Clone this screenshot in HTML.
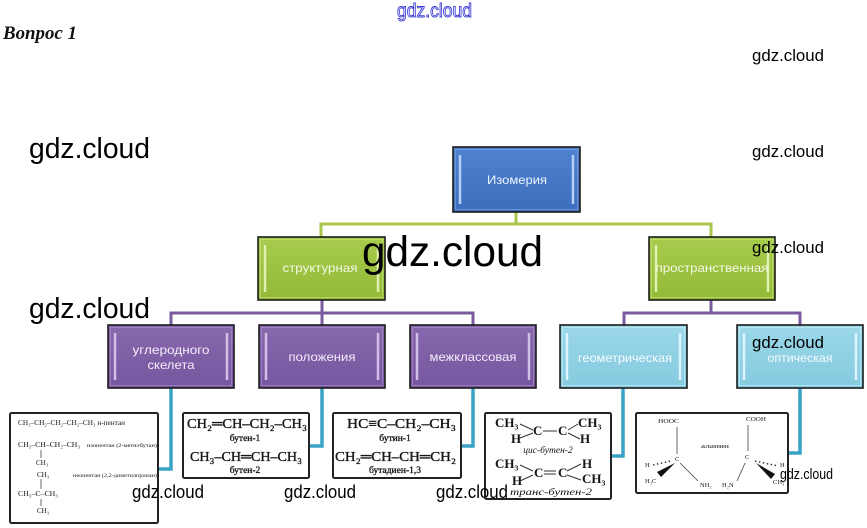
<!DOCTYPE html>
<html><head><meta charset="utf-8">
<style>
html,body{margin:0;padding:0;background:#fff;}
svg{display:block;}
.wm{font-family:"Liberation Sans",sans-serif;fill:#000;}
.bt{font-family:"Liberation Sans","DejaVu Sans",sans-serif;font-size:12px;text-anchor:middle;}
.ch{font-family:"Liberation Serif","DejaVu Serif",serif;fill:#151515;}
</style></head><body>
<svg width="867" height="528" viewBox="0 0 867 528" xmlns="http://www.w3.org/2000/svg">
<defs>
<linearGradient id="gB" x1="0" y1="0" x2="0" y2="1"><stop offset="0" stop-color="#4f82cf"/><stop offset="1" stop-color="#3b6dbd"/></linearGradient>
<linearGradient id="gG" x1="0" y1="0" x2="0" y2="1"><stop offset="0" stop-color="#a8cb4d"/><stop offset="1" stop-color="#93ba37"/></linearGradient>
<linearGradient id="gP" x1="0" y1="0" x2="0" y2="1"><stop offset="0" stop-color="#8869ae"/><stop offset="1" stop-color="#75569f"/></linearGradient>
<linearGradient id="gL" x1="0" y1="0" x2="0" y2="1"><stop offset="0" stop-color="#9ad7e9"/><stop offset="1" stop-color="#86cadf"/></linearGradient>
</defs>

<!-- header -->
<text x="397" y="17" font-family="Liberation Sans, sans-serif" font-size="19" fill="#fff" stroke="#3b3bd6" stroke-width="0.9" textLength="75" lengthAdjust="spacingAndGlyphs">gdz.cloud</text>
<text x="3" y="39" font-family="Liberation Serif, serif" font-size="19" font-weight="bold" font-style="italic" fill="#111" textLength="74" lengthAdjust="spacingAndGlyphs">Вопрос 1</text>

<!-- connectors green -->
<g fill="none" stroke="#a9c64c" stroke-width="3">
<line x1="516" y1="212" x2="516" y2="224"/>
<polyline points="321,237 321,224 711,224 711,237"/>
</g>
<!-- connectors purple -->
<g fill="none" stroke="#7a5c9e" stroke-width="3">
<line x1="322" y1="300" x2="322" y2="325"/>
<polyline points="171,325 171,313 473,313 473,325"/>
<line x1="711" y1="300" x2="711" y2="313"/>
<polyline points="624,325 624,313 800,313 800,325"/>
</g>
<!-- connectors cyan -->
<g fill="none" stroke="#3aa4c6" stroke-width="3.5">
<polyline points="171,388 171,469 158,469"/>
<polyline points="322,388 322,446 309,446"/>
<polyline points="473,388 473,446 461,446"/>
<polyline points="623,388 623,456 611,456"/>
<polyline points="800,388 800,453 788,453"/>
</g>

<!-- Boxes -->
<g>
<rect x="453" y="147" width="127" height="65" fill="url(#gB)" stroke="#1b1b1b" stroke-width="1.6"/>
<rect x="455.5" y="149.5" width="122" height="60" fill="none" stroke="#7aa0dc" stroke-width="1" opacity="0.7"/>
<line x1="460" y1="155" x2="460" y2="204" stroke="#b5d0f2" stroke-width="2.5"/>
<line x1="573" y1="155" x2="573" y2="204" stroke="#b5d0f2" stroke-width="2.5"/>
<text class="bt" x="517" y="184" fill="#eef4ff" textLength="60" lengthAdjust="spacingAndGlyphs">Изомерия</text>
</g>
<g>
<rect x="258" y="237" width="127" height="63" fill="url(#gG)" stroke="#1b1b1b" stroke-width="1.6"/>
<rect x="260.5" y="239.5" width="122" height="58" fill="none" stroke="#c4df7e" stroke-width="1" opacity="0.7"/>
<line x1="265" y1="245" x2="265" y2="292" stroke="#e0f0b0" stroke-width="2.5"/>
<line x1="378" y1="245" x2="378" y2="292" stroke="#e0f0b0" stroke-width="2.5"/>
<text class="bt" x="320" y="272" fill="#f4f9e6" textLength="75" lengthAdjust="spacingAndGlyphs">структурная</text>
</g>
<g>
<rect x="649" y="237" width="126" height="63" fill="url(#gG)" stroke="#1b1b1b" stroke-width="1.6"/>
<rect x="651.5" y="239.5" width="121" height="58" fill="none" stroke="#c4df7e" stroke-width="1" opacity="0.7"/>
<line x1="656" y1="245" x2="656" y2="292" stroke="#e0f0b0" stroke-width="2.5"/>
<line x1="768" y1="245" x2="768" y2="292" stroke="#e0f0b0" stroke-width="2.5"/>
<text class="bt" x="712" y="272" fill="#f4f9e6" textLength="113" lengthAdjust="spacingAndGlyphs">пространственная</text>
</g>
<g>
<rect x="108" y="325" width="126" height="63" fill="url(#gP)" stroke="#1b1b1b" stroke-width="1.6"/>
<rect x="110.5" y="327.5" width="121" height="58" fill="none" stroke="#a88cc8" stroke-width="1" opacity="0.7"/>
<line x1="115" y1="333" x2="115" y2="380" stroke="#d2bfe8" stroke-width="2.5"/>
<line x1="227" y1="333" x2="227" y2="380" stroke="#d2bfe8" stroke-width="2.5"/>
<text class="bt" x="171" y="354" fill="#f4eefa" textLength="77" lengthAdjust="spacingAndGlyphs">углеродного</text>
<text class="bt" x="171" y="369" fill="#f4eefa" textLength="47" lengthAdjust="spacingAndGlyphs">скелета</text>
</g>
<g>
<rect x="259" y="325" width="126" height="63" fill="url(#gP)" stroke="#1b1b1b" stroke-width="1.6"/>
<rect x="261.5" y="327.5" width="121" height="58" fill="none" stroke="#a88cc8" stroke-width="1" opacity="0.7"/>
<line x1="266" y1="333" x2="266" y2="380" stroke="#d2bfe8" stroke-width="2.5"/>
<line x1="378" y1="333" x2="378" y2="380" stroke="#d2bfe8" stroke-width="2.5"/>
<text class="bt" x="322" y="361" fill="#f4eefa" textLength="67" lengthAdjust="spacingAndGlyphs">положения</text>
</g>
<g>
<rect x="410" y="325" width="126" height="63" fill="url(#gP)" stroke="#1b1b1b" stroke-width="1.6"/>
<rect x="412.5" y="327.5" width="121" height="58" fill="none" stroke="#a88cc8" stroke-width="1" opacity="0.7"/>
<line x1="417" y1="333" x2="417" y2="380" stroke="#d2bfe8" stroke-width="2.5"/>
<line x1="529" y1="333" x2="529" y2="380" stroke="#d2bfe8" stroke-width="2.5"/>
<text class="bt" x="473" y="361" fill="#f4eefa" textLength="87" lengthAdjust="spacingAndGlyphs">межклассовая</text>
</g>
<g>
<rect x="560" y="325" width="127" height="63" fill="url(#gL)" stroke="#1b1b1b" stroke-width="1.6"/>
<rect x="562.5" y="327.5" width="122" height="58" fill="none" stroke="#c2ebf6" stroke-width="1" opacity="0.7"/>
<line x1="567" y1="333" x2="567" y2="380" stroke="#dcf4fb" stroke-width="2.5"/>
<line x1="680" y1="333" x2="680" y2="380" stroke="#dcf4fb" stroke-width="2.5"/>
<text class="bt" x="625" y="362" fill="#f6fcff" textLength="94" lengthAdjust="spacingAndGlyphs">геометрическая</text>
</g>
<g>
<rect x="737" y="325" width="126" height="63" fill="url(#gL)" stroke="#1b1b1b" stroke-width="1.6"/>
<rect x="739.5" y="327.5" width="121" height="58" fill="none" stroke="#c2ebf6" stroke-width="1" opacity="0.7"/>
<line x1="744" y1="333" x2="744" y2="380" stroke="#dcf4fb" stroke-width="2.5"/>
<line x1="856" y1="333" x2="856" y2="380" stroke="#dcf4fb" stroke-width="2.5"/>
<text class="bt" x="800" y="362" fill="#f6fcff" textLength="65" lengthAdjust="spacingAndGlyphs">оптическая</text>
</g>

<!-- chem box 1 -->
<rect x="10" y="413" width="148" height="110" fill="#fff" stroke="#222" stroke-width="2" rx="1.5"/>
<g class="ch" font-size="7" fill="#333">
<text x="18" y="425" textLength="107" lengthAdjust="spacingAndGlyphs">CH₃–CH₂–CH₂–CH₂–CH₃ н-пентан</text>
<text x="18" y="447" textLength="62" lengthAdjust="spacingAndGlyphs">CH₃–CH–CH₂–CH₃</text>
<text x="87" y="447" font-size="5" textLength="70" lengthAdjust="spacingAndGlyphs">изопентан (2-метилбутан)</text>
<text x="36" y="465">CH₃</text>
<text x="37" y="477">CH₃</text>
<text x="73" y="477" font-size="5" textLength="84" lengthAdjust="spacingAndGlyphs">неопентан (2,2-диметилпропан)</text>
<text x="18" y="496" textLength="40" lengthAdjust="spacingAndGlyphs">CH₃–C–CH₃</text>
<text x="37" y="513">CH₃</text>
</g>
<g stroke="#444" stroke-width="0.8">
<line x1="41" y1="450" x2="41" y2="458"/>
<line x1="41" y1="479" x2="41" y2="489"/>
<line x1="41" y1="499" x2="41" y2="506"/>
</g>

<!-- chem box 2 -->
<rect x="183" y="413" width="126" height="65" fill="#fff" stroke="#222" stroke-width="2" rx="1.5"/>
<g class="ch" stroke="#151515" stroke-width="0.35">
<text x="187" y="428" font-size="14" textLength="120" lengthAdjust="spacingAndGlyphs">CH₂═CH–CH₂–CH₃</text>
<text x="245" y="441" font-size="9.5" text-anchor="middle">бутен-1</text>
<text x="190" y="461" font-size="14" textLength="112" lengthAdjust="spacingAndGlyphs">CH₃–CH═CH–CH₃</text>
<text x="245" y="473" font-size="9.5" text-anchor="middle">бутен-2</text>
</g>

<!-- chem box 3 -->
<rect x="333" y="413" width="128" height="65" fill="#fff" stroke="#222" stroke-width="2" rx="1.5"/>
<g class="ch" stroke="#151515" stroke-width="0.35">
<text x="347" y="428" font-size="14" textLength="109" lengthAdjust="spacingAndGlyphs">HC≡C–CH₂–CH₃</text>
<text x="395" y="441" font-size="9.5" text-anchor="middle">бутин-1</text>
<text x="335" y="461" font-size="14" textLength="121" lengthAdjust="spacingAndGlyphs">CH₂═CH–CH═CH₂</text>
<text x="395" y="473" font-size="9.5" text-anchor="middle">бутадиен-1,3</text>
</g>

<!-- chem box 4 -->
<rect x="485" y="413" width="126" height="86" fill="#fff" stroke="#222" stroke-width="2" rx="1.5"/>
<g class="ch" font-size="13" font-weight="bold">
<text x="495" y="427">CH₃</text>
<text x="533" y="435">C</text>
<text x="558" y="435">C</text>
<text x="578" y="427">CH₃</text>
<text x="511" y="443">H</text>
<text x="580" y="443">H</text>
<text x="548" y="453" font-size="9.5" font-style="italic" text-anchor="middle" font-weight="normal">цис-бутен-2</text>
<text x="495" y="468">CH₃</text>
<text x="534" y="477">C</text>
<text x="558" y="477">C</text>
<text x="582" y="468">H</text>
<text x="512" y="485">H</text>
<text x="582" y="483">CH₃</text>
<text x="510" y="495" font-size="9.5" font-style="italic" font-weight="normal" textLength="82" lengthAdjust="spacingAndGlyphs">транс-бутен-2</text>
</g>
<g stroke="#333" stroke-width="1">
<line x1="520" y1="424" x2="533" y2="430"/>
<line x1="520" y1="438" x2="533" y2="433"/>
<line x1="543" y1="431" x2="557" y2="431"/>
<line x1="568" y1="430" x2="578" y2="424"/>
<line x1="568" y1="433" x2="580" y2="439"/>
<line x1="520" y1="465" x2="533" y2="471"/>
<line x1="520" y1="481" x2="533" y2="475"/>
<line x1="544" y1="471" x2="556" y2="471"/>
<line x1="544" y1="474" x2="556" y2="474"/>
<line x1="567" y1="471" x2="581" y2="464"/>
<line x1="567" y1="475" x2="581" y2="480"/>
</g>

<!-- chem box 5 -->
<rect x="636" y="413" width="152" height="80" fill="#fff" stroke="#222" stroke-width="2" rx="1.5"/>
<g class="ch" font-size="6.5">
<text x="658" y="423" textLength="21" lengthAdjust="spacingAndGlyphs">HOOC</text>
<text x="675" y="461">C</text>
<text x="715" y="448" text-anchor="middle" textLength="28" lengthAdjust="spacingAndGlyphs">аланин</text>
<text x="746" y="421" textLength="20" lengthAdjust="spacingAndGlyphs">COOH</text>
<text x="745" y="459">C</text>
<text x="645" y="467">H</text>
<text x="645" y="483">H₃C</text>
<text x="700" y="487">NH₂</text>
<text x="722" y="487">H₂N</text>
<text x="780" y="467">H</text>
<text x="773" y="484">CH₃</text>
</g>
<g stroke="#444" stroke-width="0.8">
<line x1="677" y1="427" x2="677" y2="454"/>
<line x1="748" y1="425" x2="748" y2="451"/>
<line x1="680" y1="463" x2="698" y2="481"/>
<line x1="745" y1="463" x2="737" y2="481"/>
<line x1="653" y1="465" x2="671" y2="461" stroke-dasharray="1.5,2.5" stroke-width="1.6"/>
<line x1="755" y1="461" x2="778" y2="466" stroke-dasharray="1.5,2.5" stroke-width="1.6"/>
</g>
<polygon points="675,463 657,472 661,477" fill="#111"/>
<polygon points="756,463 771,479 775,474" fill="#111"/>

<!-- watermarks -->
<g class="wm">
<text x="752" y="61" font-size="17" textLength="72" lengthAdjust="spacingAndGlyphs">gdz.cloud</text>
<text x="752" y="157" font-size="17" textLength="72" lengthAdjust="spacingAndGlyphs">gdz.cloud</text>
<text x="752" y="253" font-size="17" textLength="72" lengthAdjust="spacingAndGlyphs">gdz.cloud</text>
<text x="752" y="348" font-size="17" textLength="72" lengthAdjust="spacingAndGlyphs">gdz.cloud</text>
<text x="29" y="158" font-size="29" textLength="121" lengthAdjust="spacingAndGlyphs">gdz.cloud</text>
<text x="29" y="318" font-size="29" textLength="121" lengthAdjust="spacingAndGlyphs">gdz.cloud</text>
<text x="362" y="266" font-size="43" textLength="181" lengthAdjust="spacingAndGlyphs">gdz.cloud</text>
<text x="132" y="498" font-size="18" textLength="72" lengthAdjust="spacingAndGlyphs">gdz.cloud</text>
<text x="284" y="498" font-size="18" textLength="72" lengthAdjust="spacingAndGlyphs">gdz.cloud</text>
<text x="436" y="498" font-size="18" textLength="72" lengthAdjust="spacingAndGlyphs">gdz.cloud</text>
<text x="780" y="479" font-size="15" textLength="53" lengthAdjust="spacingAndGlyphs">gdz.cloud</text>
</g>
</svg>
</body></html>
